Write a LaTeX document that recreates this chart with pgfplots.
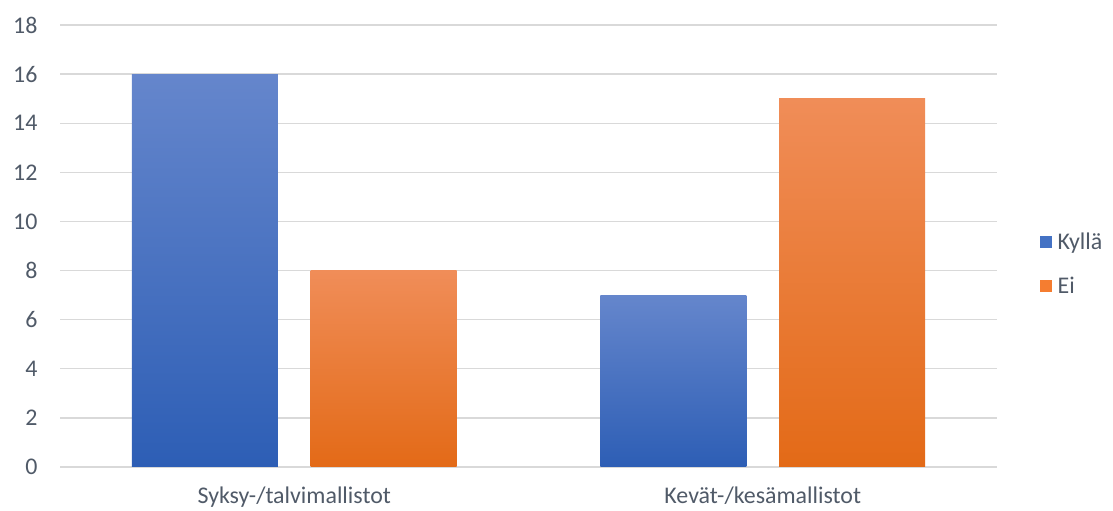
\documentclass[border=0pt]{standalone}
\usepackage{pgfplots}
\pgfplotsset{compat=1.18}
\usepackage{fontspec}
\setmainfont{Carlito}
\definecolor{btop}{HTML}{6586CC}
\definecolor{bmid}{HTML}{4472C4}
\definecolor{bbot}{HTML}{2D5EB5}
\definecolor{otop}{HTML}{F08D58}
\definecolor{omid}{HTML}{F57D30}
\definecolor{obot}{HTML}{E36A17}
\definecolor{gridc}{HTML}{D9D9D9}
\definecolor{txt}{HTML}{505A68}
\begin{document}
\begin{tikzpicture}
\begin{axis}[
  scale only axis,
  width=937bp, height=442bp,
  xmin=-0.5, xmax=1.5,
  ymin=0, ymax=18,
  ytick={0,2,...,18},
  xtick={0,1},
  xticklabels={Syksy-/talvimallistot, Kevät-/kesämallistot},
  axis line style={draw=none},
  axis x line*=bottom,
  ymajorgrids,
  major grid style={gridc, line width=1.4bp},
  tick style={draw=none},
  tick label style={font=\fontsize{24}{28}\selectfont, text=txt},
  /pgf/number format/assume math mode=true,
  yticklabel style={xshift=-19bp},
  xticklabel style={yshift=-16bp},
  clip=false,
  legend style={at={(1.043,0.46)}, anchor=west, draw=none, fill=none,
    font=\fontsize{24}{28}\selectfont, text=txt, row sep=22bp,
    cells={anchor=west}},
  legend image code/.code={\fill[#1, draw=none] (0bp,-6bp) rectangle (12bp,6bp); \path (15bp,0bp);},
]
\draw[gridc, line width=1.4bp] (axis cs:-0.5,0) -- (axis cs:1.5,0);
\addplot[ybar, forget plot, draw=none, bar width=0.3116, bar shift=-0.191,
  top color=btop, middle color=bmid, bottom color=bbot] coordinates {(0,16)};
\addplot[ybar, forget plot, draw=none, bar width=0.3116, bar shift=-0.191,
  top color=btop, middle color=bmid, bottom color=bbot] coordinates {(1,7)};
\addplot[ybar, forget plot, draw=none, bar width=0.3116, bar shift=0.191,
  top color=otop, middle color=omid, bottom color=obot] coordinates {(0,8)};
\addplot[ybar, forget plot, draw=none, bar width=0.3116, bar shift=0.191,
  top color=otop, middle color=omid, bottom color=obot] coordinates {(1,15)};
\addlegendimage{fill=bmid}
\addlegendentry{Kyllä}
\addlegendimage{fill=omid}
\addlegendentry{Ei}
\end{axis}
\path[use as bounding box] (-60bp,-42bp) rectangle (1053bp,467bp);
\end{tikzpicture}
\end{document}
